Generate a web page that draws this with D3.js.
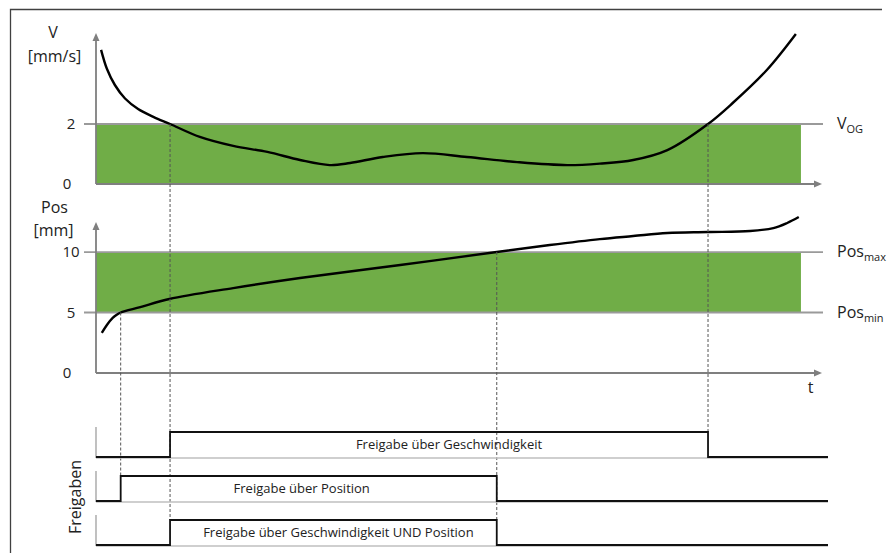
<!DOCTYPE html>
<html>
<head>
<meta charset="utf-8">
<script src="https://cdn.jsdelivr.net/npm/d3@7"></script>
<style>
  body { margin: 0; background: #fff; }
  svg { display: block; font-family: "Open Sans", sans-serif; }
</style>
</head>
<body>
<svg id="chart" width="891" height="553"></svg>
<script>
// ---- data -------------------------------------------------------------
// shared time axis (arbitrary units)
const timeDomain = [0, 10];

// speed V(t) in mm/s
const speedTime  = [0.07, 0.15, 0.26, 0.40, 0.58, 0.79, 1.02, 1.43, 1.89, 2.36, 2.81, 3.22,
                    3.50, 3.95, 4.50, 5.11, 5.80, 6.49, 6.94, 7.40, 7.87, 8.43, 8.77, 9.24, 9.64];
const speedValue = [4.47, 3.84, 3.30, 2.85, 2.50, 2.24, 2.00, 1.57, 1.27, 1.07, 0.80, 0.63,
                    0.70, 0.90, 1.03, 0.90, 0.73, 0.63, 0.68, 0.80, 1.13, 2.00, 2.70, 3.80, 5.00];
const speedTicks = [0, 2];
const speedDomain = [0, 5];
const speedLimit = 2;            // V_OG

// position Pos(t) in mm
const posTime  = [0.08, 0.15, 0.23, 0.29, 0.34, 0.61, 1.01, 1.89, 2.81, 4.19, 5.52,
                  6.25, 6.94, 7.40, 7.87, 8.43, 9.01, 9.33, 9.52, 9.68];
const posValue = [3.31, 3.97, 4.55, 4.83, 5.00, 5.45, 6.12, 7.02, 7.85, 8.93, 10.00,
                  10.58, 11.07, 11.32, 11.57, 11.65, 11.74, 11.98, 12.40, 12.89];
const posTicks = [0, 5, 10];
const posDomain = [0, 12.4];
const posMin = 5, posMax = 10;

// right end of the shaded permitted zone
const zoneEnd = 9.71;

// release signals
const releaseLabels = [
  "Freigabe über Geschwindigkeit",
  "Freigabe über Position",
  "Freigabe über Geschwindigkeit UND Position"
];

// ---- helpers ----------------------------------------------------------
// times where a sampled series crosses a level (linear between samples)
function crossings(ts, vs, level) {
  const out = [];
  for (let i = 0; i < ts.length - 1; i++) {
    const a = vs[i] - level, b = vs[i + 1] - level;
    if ((a > 0 && b <= 0) || (a < 0 && b >= 0)) {
      out.push(ts[i] + (ts[i + 1] - ts[i]) * (a / (a - b)));
    }
  }
  return out;
}

const speedCross = crossings(speedTime, speedValue, speedLimit);
const speedWindow = [speedCross[0], speedCross[speedCross.length - 1]];
const posWindow = [crossings(posTime, posValue, posMin)[0], crossings(posTime, posValue, posMax)[0]];
const andWindow = [Math.max(speedWindow[0], posWindow[0]), Math.min(speedWindow[1], posWindow[1])];
const windows = [speedWindow, posWindow, andWindow];

// ---- layout -----------------------------------------------------------
const svg = d3.select("#chart");
const green = "#70ad47";
const axisGrey = "#7f7f7f";
const lineGrey = "#9a9a9a";

const x = d3.scaleLinear().domain(timeDomain).range([96, 822]);
const yV = d3.scaleLinear().domain(speedDomain).range([184, 34]);
const yP = d3.scaleLinear().domain(posDomain).range([373, 223]);

const rowLow = [457, 501, 545];
const rowHeight = 25;
const stepEnd = 828;

// frame
svg.append("path")
  .attr("d", "M10.5,553 V9.5 H882")
  .attr("fill", "none").attr("stroke", "#404040").attr("stroke-width", 1.3);

// dashed guides from the threshold crossings down to the release signals
const events = [
  { t: speedWindow[0], y: yV(speedLimit) },
  { t: speedWindow[1], y: yV(speedLimit) },
  { t: posWindow[0], y: yP(posMin) },
  { t: posWindow[1], y: yP(posMax) }
];

const smooth = d3.curveCatmullRom.alpha(0.5);

function drawPanel(y, ticks, lo, hi, curveT, curveV, labels) {
  // permitted zone
  svg.append("rect")
    .attr("x", x(0)).attr("y", y(hi))
    .attr("width", x(zoneEnd) - x(0)).attr("height", y(lo) - y(hi))
    .attr("fill", green);

  // threshold lines
  [lo, hi].filter(v => v > 0).forEach(v => {
    svg.append("line")
      .attr("x1", x(0) - 12).attr("x2", x(timeDomain[1]) + 1)
      .attr("y1", y(v)).attr("y2", y(v))
      .attr("stroke", lineGrey).attr("stroke-width", 1.8);
  });

  // tick labels
  const ax = svg.append("g")
    .attr("transform", `translate(${x(0)},0)`)
    .call(d3.axisLeft(y).tickValues(ticks).tickSize(0).tickFormat(d3.format("d")));
  ax.select(".domain").remove();
  ax.selectAll("text")
    .attr("font-size", 15).attr("font-family", "Open Sans, sans-serif")
    .attr("fill", "#222").attr("text-anchor", "middle")
    .attr("x", d => d === 0 ? -29 : -25);

  // axes with arrow heads
  const y0 = y(0), yTop = y.range()[1] - 1;
  svg.append("line").attr("x1", x(0)).attr("x2", x(0)).attr("y1", y0).attr("y2", yTop + 6)
    .attr("stroke", axisGrey).attr("stroke-width", 1.8);
  svg.append("path").attr("d", `M${x(0)},${yTop} l-3.5,8 h7 z`).attr("fill", axisGrey);
  svg.append("line").attr("x1", x(0)).attr("x2", x(timeDomain[1]) - 6).attr("y1", y0).attr("y2", y0)
    .attr("stroke", axisGrey).attr("stroke-width", 1.8);
  svg.append("path").attr("d", `M${x(timeDomain[1])},${y0} l-8,-3.5 v7 z`).attr("fill", axisGrey);

  // threshold labels
  labels.forEach(l => {
    const t = svg.append("text").attr("x", 837).attr("y", y(l.v) + 5)
      .attr("font-size", 16).attr("fill", "#222");
    t.append("tspan").text(l.main);
    t.append("tspan").attr("dy", 4).attr("font-size", 11).text(l.sub);
  });

  // curve
  svg.append("path")
    .datum(d3.zip(curveT, curveV))
    .attr("d", d3.line().x(d => x(d[0])).y(d => y(d[1])).curve(smooth))
    .attr("fill", "none").attr("stroke", "#000").attr("stroke-width", 2.4);
}

drawPanel(yV, speedTicks, 0, speedLimit, speedTime, speedValue,
  [{ v: speedLimit, main: "V", sub: "OG" }]);
drawPanel(yP, posTicks, posMin, posMax, posTime, posValue,
  [{ v: posMax, main: "Pos", sub: "max" }, { v: posMin, main: "Pos", sub: "min" }]);

events.forEach(e => {
  let last = 0;
  windows.forEach((w, i) => {
    if (Math.abs(w[0] - e.t) < 1e-9 || Math.abs(w[1] - e.t) < 1e-9) last = i;
  });
  svg.append("line")
    .attr("x1", x(e.t)).attr("x2", x(e.t))
    .attr("y1", e.y).attr("y2", rowLow[last] - rowHeight)
    .attr("stroke", "#555").attr("stroke-width", 1).attr("stroke-dasharray", "3,2");
});

// axis titles
const titles = [
  { text: "V", x: 53, y: 38 },
  { text: "[mm/s]", x: 54.5, y: 62 },
  { text: "Pos", x: 54.5, y: 213 },
  { text: "[mm]", x: 53.5, y: 236 }
];
svg.selectAll("text.title").data(titles).join("text").attr("class", "title")
  .attr("x", d => d.x).attr("y", d => d.y).attr("text-anchor", "middle")
  .attr("font-size", 16).attr("fill", "#222").text(d => d.text);
svg.append("text").attr("x", 810.5).attr("y", 393).attr("text-anchor", "middle")
  .attr("font-size", 16).attr("fill", "#222").text("t");

// release signals
const labelShift = [10, -7, 5];
windows.forEach((w, i) => {
  const lo = rowLow[i], hi = lo - rowHeight;
  svg.append("line").attr("x1", x(0)).attr("x2", x(0)).attr("y1", lo - 30).attr("y2", lo + 1)
    .attr("stroke", "#a6a6a6").attr("stroke-width", 1.4);
  svg.append("line").attr("x1", x(0)).attr("x2", stepEnd).attr("y1", lo + 1).attr("y2", lo + 1)
    .attr("stroke", "#bfbfbf").attr("stroke-width", 1.4);
  const pts = [[x(0), lo], [x(w[0]), lo], [x(w[0]), hi], [x(w[1]), hi], [x(w[1]), lo], [stepEnd, lo]];
  svg.append("path").attr("d", d3.line()(pts))
    .attr("fill", "none").attr("stroke", "#111").attr("stroke-width", 1.8);
  svg.append("text")
    .attr("x", (x(w[0]) + x(w[1])) / 2 + labelShift[i]).attr("y", (lo + hi) / 2 + 4.5)
    .attr("text-anchor", "middle").attr("font-size", 13).attr("fill", "#222")
    .text(releaseLabels[i]);
});

svg.append("text")
  .attr("transform", "translate(81,497) rotate(-90)")
  .attr("text-anchor", "middle").attr("font-size", 16).attr("fill", "#222")
  .text("Freigaben");
</script>
</body>
</html>
